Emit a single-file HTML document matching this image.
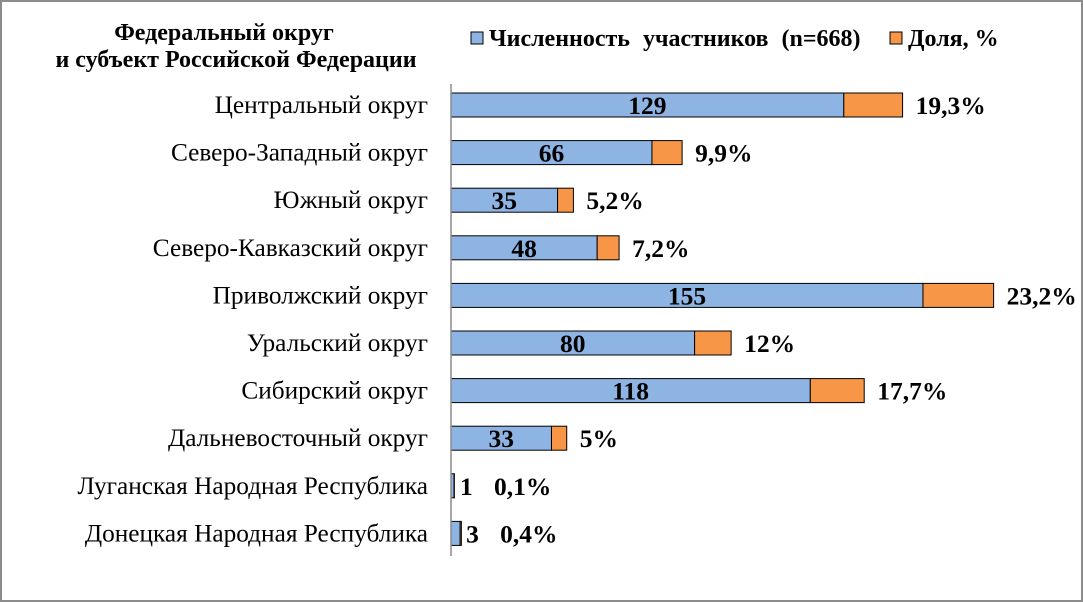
<!DOCTYPE html>
<html><head><meta charset="utf-8"><style>
body{margin:0;background:#fff}
svg{display:block;font-family:"Liberation Serif",serif}
</style></head><body>
<svg width="1083" height="602" viewBox="0 0 1083 602">
<rect x="1" y="1" width="1081" height="600" fill="#fff" stroke="#8c8c8c" stroke-width="2"/>
<text x="224" y="40" font-size="24" font-weight="bold" text-anchor="middle"><tspan x="224">Федеральный округ</tspan><tspan x="236" dy="27">и субъект Российской Федерации</tspan></text>
<g>
<rect x="471" y="32" width="12" height="12" fill="#8eb4e3" stroke="#000"/>
<text x="489" y="46" font-size="24" font-weight="bold" word-spacing="7">Численность участников (n=668)</text>
<rect x="890" y="32" width="12" height="12" fill="#f79646" stroke="#000"/>
<text x="908" y="46" font-size="24" font-weight="bold">Доля, %</text>
</g>
<g id="plot"></g>
<line x1="451" y1="84" x2="451" y2="556" stroke="#8c8c8c" stroke-width="1.5"/>
</svg>
<script>
const categories=["Центральный округ","Северо-Западный округ","Южный округ","Северо-Кавказский округ","Приволжский округ","Уральский округ","Сибирский округ","Дальневосточный округ","Луганская Народная Республика","Донецкая Народная Республика"];
const counts=[129,66,35,48,155,80,118,33,1,3];
const shares=[19.3,9.9,5.2,7.2,23.2,12,17.7,5,0.1,0.4];
const shareLabels=["19,3%","9,9%","5,2%","7,2%","23,2%","12%","17,7%","5%","0,1%","0,4%"];
const x0=451,scale=3.045,y0=105,step=47.6,bh=24;
const xs=v=>v*scale;
const ys=i=>y0+i*step;
const g=document.getElementById('plot');
const NS="http://www.w3.org/2000/svg";
function mk(t,a){const e=document.createElementNS(NS,t);for(const k in a)e.setAttribute(k,a[k]);g.appendChild(e);return e;}
categories.forEach((c,i)=>{
 const y=ys(i);
 const t=mk('text',{x:428,y:y+8,'font-size':25.3,'text-anchor':'end'});t.textContent=c;
 
 
 const w=xs(counts[i]);
 const b=mk('rect',{x:x0,y:y-bh/2,width:w,height:bh,fill:'#8eb4e3',stroke:'#000','stroke-width':1});
 
 
 const w2=xs(shares[i]);
 const b2=mk('rect',{x:x0+w,y:y-bh/2,width:w2,height:bh,fill:'#f79646',stroke:'#000','stroke-width':1});
 
 
 const end=x0+w+w2;
 let cl,pl;
 if(w<30){cl=mk('text',{x:x0+w+6,y:y+9,'font-size':25.5,'font-weight':'bold'});pl=mk('text',{x:x0+w+40,y:y+9,'font-size':25.5,'font-weight':'bold'});}
 else{cl=mk('text',{x:x0+w/2,y:y+9,'font-size':25.5,'font-weight':'bold','text-anchor':'middle'});pl=mk('text',{x:end+13,y:y+9,'font-size':25.5,'font-weight':'bold'});}
 cl.textContent=counts[i];
 
 
 pl.textContent=shareLabels[i];
 
 
});
</script>
</body></html>
